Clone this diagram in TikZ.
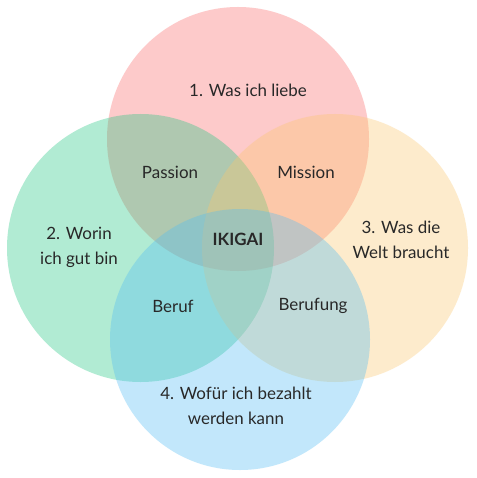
\documentclass[tikz,border=0pt]{standalone}
\usepackage{fontspec}
\setmainfont{Lato}
\definecolor{cpink}{RGB}{252,104,104}
\definecolor{cgreen}{RGB}{32,198,129}
\definecolor{corange}{RGB}{252,198,109}
\definecolor{cblue}{RGB}{81,189,244}
\definecolor{ctext}{RGB}{40,40,40}
\begin{document}
\begin{tikzpicture}[x=1bp,y=-1bp,
  ring/.style={fill opacity=0.35, draw=none},
  lbl/.style={text=ctext, font=\fontsize{17}{25}\selectfont, align=center, inner sep=0pt},
  core/.style={lbl, font=\fontsize{17}{25}\selectfont\bfseries}]
\useasboundingbox (0,0) rectangle (477,478);
\fill[white] (0,0) rectangle (477,478);
\fill[ring, cpink] (238,139) ellipse [x radius=131, y radius=132];
\fill[ring, cgreen] (140.5,248) ellipse [x radius=133.5, y radius=134];
\fill[ring, corange] (335,248) ellipse [x radius=133, y radius=134];
\fill[ring, cblue] (240,339.5) ellipse [x radius=130, y radius=130.5];
\node[lbl] (love) at (248,90) {1. Was ich liebe};
\node[lbl] (good) at (79,247) {2. Worin\\ich gut bin};
\node[lbl] (world) at (401,240) {3. Was die\\Welt braucht};
\node[lbl] (paid) at (236,406) {4. Wofür ich bezahlt\\werden kann};
\node[lbl] (passion) at (170,172) {Passion};
\node[lbl] (mission) at (306,172) {Mission};
\node[lbl] (beruf) at (173,306) {Beruf};
\node[lbl] (berufung) at (313,306) {Berufung};
\node[core] (ikigai) at (238,239) {IKIGAI};
\end{tikzpicture}
\end{document}
